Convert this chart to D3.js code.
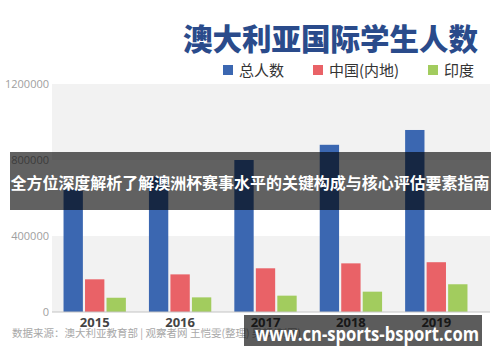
<!DOCTYPE html>
<html>
<head>
<meta charset="utf-8">
<script src="https://cdn.jsdelivr.net/npm/d3@7"></script>
<style>
  body { margin: 0; background: #fff; }
  text { font-family: "Noto Sans CJK SC", "Noto Sans", sans-serif; }
</style>
</head>
<body>
<script>
// gegevens uit het plaatje
var years = ["2015", "2016", "2017", "2018", "2019"];
var totaal = [645000, 713000, 800000, 880000, 958000];
var china = [172000, 198000, 230000, 256000, 262000];
var india = [75000, 77000, 86000, 107000, 146000];
var yTicks = [0, 400000, 800000, 1200000];
var reeksen = ["总人数", "中国(内地)", "印度"];
var kleuren = ["#3b67b1", "#e96267", "#a2cc5e"];

var width = 500, height = 362;
var plot = {left: 52, right: 490, top: 84, bottom: 312};

var svg = d3.select("body").append("svg")
    .attr("width", width)
    .attr("height", height);

// schalen
var x0 = d3.scaleBand().domain(years).range([plot.left, 479])
    .paddingInner(0.27).paddingOuter(0.135);
var x1 = d3.scaleBand().domain(reeksen).range([0, x0.bandwidth()]).paddingInner(0.1);
var y = d3.scaleLinear().domain([0, 1200000]).range([plot.bottom, plot.top]);

// grijze banden achter de grafiek
[[0, 1], [2, 3]].forEach(function(p) {
  svg.append("rect")
      .attr("x", plot.left)
      .attr("y", y(yTicks[p[1]]))
      .attr("width", plot.right - plot.left)
      .attr("height", y(yTicks[p[0]]) - y(yTicks[p[1]]))
      .attr("fill", "#f2f2f2");
});

// titel
svg.append("text")
    .attr("x", 478)
    .attr("y", 50)
    .attr("text-anchor", "end")
    .attr("font-size", "29.5px")
    .attr("font-weight", 900)
    .attr("fill", "#2a4b8b")
    .text("澳大利亚国际学生人数");

// legenda
var legX = [223, 313, 428];
reeksen.forEach(function(r, i) {
  svg.append("rect")
      .attr("x", legX[i]).attr("y", 65)
      .attr("width", 10).attr("height", 10)
      .attr("fill", kleuren[i]);
  svg.append("text")
      .attr("x", legX[i] + 16).attr("y", 75.5)
      .attr("font-size", "15px")
      .attr("fill", "#333")
      .text(r);
});

// staven
var data = years.map(function(jaar, i) {
  return {jaar: jaar, waarden: [totaal[i], china[i], india[i]]};
});

var groep = svg.selectAll(".groep")
    .data(data)
  .enter().append("g")
    .attr("class", "groep")
    .attr("transform", function(d) { return "translate(" + x0(d.jaar) + ",0)"; });

groep.selectAll("rect")
    .data(function(d) { return d.waarden.map(function(v, i) { return {reeks: reeksen[i], v: v, k: kleuren[i]}; }); })
  .enter().append("rect")
    .attr("x", function(d) { return x1(d.reeks); })
    .attr("y", function(d) { return y(d.v); })
    .attr("width", x1.bandwidth())
    .attr("height", function(d) { return y(0) - y(d.v); })
    .attr("fill", function(d) { return d.k; });

// y as
svg.append("g")
    .attr("transform", "translate(" + plot.left + ",0)")
    .call(d3.axisLeft(y).tickValues(yTicks).tickSize(0).tickPadding(3).tickFormat(d3.format("d")))
    .call(function(g) { g.select(".domain").remove(); })
    .selectAll("text")
      .attr("font-size", "11px")
      .attr("fill", "#a0a0a0")
      .style("font-family", "'Open Sans', 'Noto Sans', sans-serif");

// x as
svg.append("line")
    .attr("x1", plot.left).attr("x2", plot.right)
    .attr("y1", y(0)).attr("y2", y(0))
    .attr("stroke", "#c4c4c4").attr("stroke-width", 1.2);

svg.append("g")
    .attr("transform", "translate(0," + y(0) + ")")
    .call(d3.axisBottom(x0).tickSize(0).tickPadding(6))
    .call(function(g) { g.select(".domain").remove(); })
    .selectAll("text")
      .attr("font-size", "13px")
      .attr("font-weight", "bold")
      .attr("fill", "#444")
      .style("font-family", "'Open Sans', 'Noto Sans', sans-serif");

// bron
svg.append("text")
    .attr("x", 12).attr("y", 337)
    .attr("font-size", "10.5px")
    .attr("fill", "#a8a8a8")
    .text("数据来源：澳大利亚教育部  |  观察者网 王恺雯(整理) 吴頔(制图)");

// banner over de grafiek
svg.append("rect")
    .attr("x", 10).attr("y", 152)
    .attr("width", 481).attr("height", 58)
    .attr("fill", "rgba(0,0,0,0.62)");
svg.append("text")
    .attr("x", 250).attr("y", 189)
    .attr("text-anchor", "middle")
    .attr("font-size", "16px")
    .attr("font-weight", "bold")
    .attr("fill", "#fff")
    .attr("textLength", 479)
    .attr("lengthAdjust", "spacingAndGlyphs")
    .text("全方位深度解析了解澳洲杯赛事水平的关键构成与核心评估要素指南");

// watermerk rechtsonder
svg.append("rect")
    .attr("x", 244).attr("y", 315)
    .attr("width", 238).attr("height", 31)
    .attr("fill", "rgba(0,0,0,0.64)");
svg.append("text")
    .attr("x", 255).attr("y", 341)
    .attr("font-size", "19px")
    .attr("font-weight", "bold")
    .attr("fill", "#fff")
    .attr("textLength", 224)
    .attr("lengthAdjust", "spacingAndGlyphs")
    .style("font-family", "'Open Sans', 'Noto Sans', sans-serif")
    .text("www.cn-sports-bsport.com");
</script>
</body>
</html>
